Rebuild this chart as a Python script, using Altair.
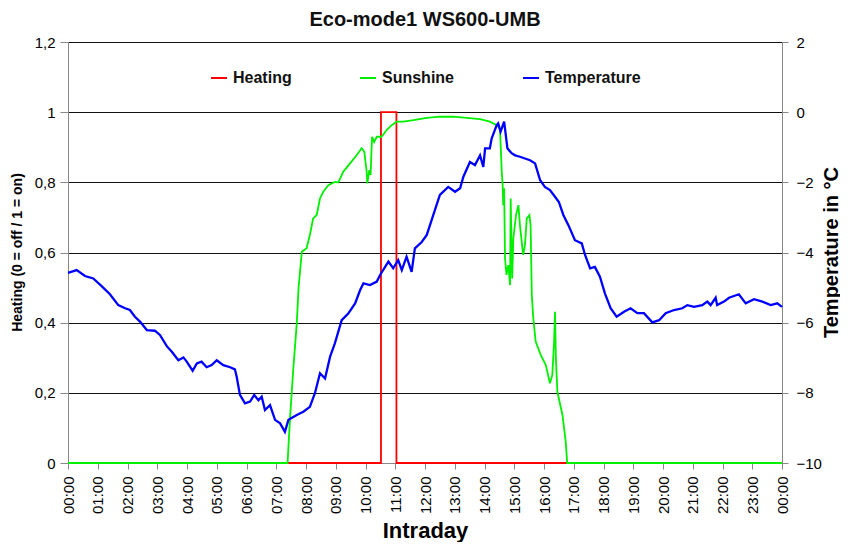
import altair as alt
import pandas as pd

FONT = "Liberation Sans"

series_names = ["Heating", "Sunshine", "Temperature"]
series_colors = ["#ff0000", "#00f000", "#0000ff"]

# Heating (0 = off / 1 = on), hours of day
heat_h = [0.00, 10.52, 10.52, 11.04, 11.04, 24.00]
heat_v = [0, 0, 1, 1, 0, 0]

# Sunshine (left axis scale), hours of day
sun_h = [0.00, 7.38, 7.46, 7.57, 7.69, 7.75, 7.86, 8.02, 8.13, 8.24,
         8.36, 8.47, 8.58, 8.75, 8.97, 9.09, 9.25, 9.48, 9.70, 9.87,
         9.96, 10.04, 10.06, 10.13, 10.17, 10.22, 10.29, 10.38, 10.54, 10.71,
         10.88, 11.05, 11.27, 11.61, 12.06, 12.50, 12.95, 13.40, 13.85, 14.18,
         14.41, 14.52, 14.58, 14.61, 14.63, 14.66, 14.69, 14.74, 14.80, 14.86,
         14.88, 14.93, 14.97, 15.06, 15.14, 15.19, 15.30, 15.36, 15.42, 15.51,
         15.55, 15.59, 15.64, 15.72, 15.89, 16.06, 16.20, 16.28, 16.34, 16.37,
         16.40, 16.45, 16.62, 16.73, 16.78, 24.00]
sun_v = [0, 0, 0.123, 0.265, 0.398, 0.50, 0.602, 0.612, 0.650, 0.697,
         0.707, 0.754, 0.773, 0.792, 0.801, 0.800, 0.830, 0.854, 0.877, 0.897,
         0.887, 0.830, 0.797, 0.835, 0.821, 0.930, 0.915, 0.930, 0.930, 0.949,
         0.963, 0.973, 0.973, 0.977, 0.984, 0.987, 0.987, 0.984, 0.980, 0.973,
         0.963, 0.953, 0.830, 0.792, 0.735, 0.783, 0.583, 0.536, 0.564, 0.507,
         0.754, 0.526, 0.640, 0.707, 0.735, 0.678, 0.593, 0.621, 0.697, 0.707,
         0.678, 0.479, 0.412, 0.346, 0.308, 0.279, 0.227, 0.251, 0.346, 0.431,
         0.298, 0.203, 0.137, 0.061, 0, 0]

# Temperature in °C (right axis), hours of day
temp_h = [0.00, 0.29, 0.57, 0.85, 1.13, 1.41, 1.69, 1.92, 2.08, 2.25,
          2.42, 2.65, 2.92, 3.09, 3.32, 3.49, 3.71, 3.88, 3.99, 4.19,
          4.33, 4.49, 4.66, 4.83, 5.00, 5.22, 5.45, 5.61, 5.67, 5.78,
          5.95, 6.12, 6.26, 6.40, 6.51, 6.62, 6.79, 6.96, 7.13, 7.29,
          7.41, 7.69, 7.91, 8.13, 8.30, 8.47, 8.64, 8.81, 8.97, 9.20,
          9.42, 9.65, 9.82, 9.93, 10.15, 10.38, 10.49, 10.77, 10.93, 11.10,
          11.22, 11.38, 11.55, 11.66, 11.89, 12.06, 12.28, 12.50, 12.78, 13.01,
          13.18, 13.29, 13.51, 13.68, 13.85, 13.96, 14.02, 14.18, 14.24, 14.41,
          14.46, 14.54, 14.66, 14.77, 14.91, 15.03, 15.19, 15.36, 15.53, 15.70,
          15.87, 16.03, 16.20, 16.37, 16.50, 16.65, 16.82, 17.04, 17.27, 17.38,
          17.55, 17.71, 17.88, 18.05, 18.24, 18.44, 18.69, 18.91, 19.14, 19.36,
          19.64, 19.87, 20.09, 20.37, 20.65, 20.82, 21.04, 21.32, 21.49, 21.60,
          21.77, 21.82, 22.05, 22.22, 22.55, 22.78, 23.06, 23.34, 23.62, 23.84,
          24.00]
temp_c = [-4.58, -4.50, -4.67, -4.74, -4.96, -5.19, -5.50, -5.59, -5.64, -5.83,
          -5.97, -6.21, -6.23, -6.35, -6.67, -6.83, -7.07, -6.99, -7.11, -7.37,
          -7.16, -7.11, -7.27, -7.21, -7.07, -7.21, -7.27, -7.33, -7.54, -8.06,
          -8.30, -8.25, -8.06, -8.21, -8.11, -8.49, -8.35, -8.77, -8.87, -9.11,
          -8.77, -8.63, -8.54, -8.40, -8.01, -7.44, -7.59, -6.97, -6.59, -5.93,
          -5.74, -5.45, -5.07, -4.88, -4.93, -4.83, -4.64, -4.26, -4.45, -4.22,
          -4.50, -4.12, -4.55, -3.88, -3.70, -3.50, -2.93, -2.36, -2.13, -2.27,
          -2.17, -1.84, -1.42, -1.51, -1.23, -1.56, -1.03, -1.03, -0.75, -0.37,
          -0.32, -0.56, -0.27, -1.03, -1.17, -1.23, -1.27, -1.32, -1.37, -1.46,
          -1.94, -2.13, -2.22, -2.41, -2.56, -2.93, -3.22, -3.65, -3.74, -4.07,
          -4.45, -4.41, -4.69, -5.17, -5.59, -5.83, -5.69, -5.59, -5.73, -5.73,
          -5.99, -5.93, -5.73, -5.64, -5.59, -5.50, -5.55, -5.50, -5.40, -5.50,
          -5.29, -5.50, -5.40, -5.29, -5.19, -5.45, -5.33, -5.40, -5.50, -5.45,
          -5.55]

left_ticks = [0, 0.2, 0.4, 0.6, 0.8, 1.0, 1.2]
right_ticks = [-10, -8, -6, -4, -2, 0, 2]
hour_ticks = list(range(25))

left_df = pd.concat([
    pd.DataFrame({"h": heat_h, "v": heat_v, "s": "Heating", "i": range(len(heat_h))}),
    pd.DataFrame({"h": sun_h, "v": sun_v, "s": "Sunshine", "i": range(len(sun_h))}),
], ignore_index=True)
temp_df = pd.DataFrame({"h": temp_h, "t": temp_c, "s": "Temperature", "i": range(len(temp_h))})

color = alt.Color(
    "s:N",
    scale=alt.Scale(domain=series_names, range=series_colors),
    legend=alt.Legend(
        title=None, orient="none", legendX=142, legendY=27, direction="horizontal",
        symbolType="stroke", symbolSize=256, symbolStrokeWidth=2,
        labelFont=FONT, labelFontSize=16, labelFontWeight="bold", labelColor="#111",
        labelOffset=5, columnPadding=64, padding=0,
    ),
)

x_enc = alt.X(
    "h:Q",
    scale=alt.Scale(domain=[0, 24], nice=False, zero=False),
    axis=alt.Axis(
        values=hour_ticks, labelAngle=270, grid=False,
        labelExpr="((datum.value % 24) < 10 ? '0' : '') + (datum.value % 24) + ':00'",
        title="Intraday", titleFontSize=22, titleY=74, titleBaseline="alphabetic",
        tickSize=6, labelPadding=7, labelFontSize=15,
    ),
)

left_chart = alt.Chart(left_df).mark_line(strokeWidth=1.8).encode(
    x=x_enc,
    y=alt.Y(
        "v:Q",
        scale=alt.Scale(domain=[0, 1.2], nice=False),
        axis=alt.Axis(
            values=left_ticks, grid=True, gridColor="#111", gridWidth=1.2, gridOpacity=1,
            labelExpr="replace(format(datum.value, '.1~f'), '.', ',')",
            title="Heating (0 = off / 1 = on)", titleFontSize=14,
            titleX=-51, titleY=210, titleAngle=270, titleAlign="center", titleBaseline="middle",
            tickSize=8, labelPadding=5, labelFontSize=15,
        ),
    ),
    color=color,
    order=alt.Order("i:Q"),
)

temp_chart = alt.Chart(temp_df).mark_line(strokeWidth=2.3).encode(
    x=x_enc,
    y=alt.Y(
        "t:Q",
        scale=alt.Scale(domain=[-10, 2], nice=False),
        axis=alt.Axis(
            orient="right", values=right_ticks, grid=False,
            title="Temperature in °C", titleFontSize=20,
            titleX=49, titleY=210, titleAngle=270, titleAlign="center", titleBaseline="middle",
            tickSize=6, labelPadding=8, labelFontSize=15,
        ),
    ),
    color=color,
    order=alt.Order("i:Q"),
)

chart = alt.layer(left_chart, temp_chart).resolve_scale(y="independent").properties(
    width=714,
    height=421,
    autosize=alt.AutoSizeParams(type="none"),
    padding={"left": 60, "top": 34, "right": 58, "bottom": 79},
    title=alt.TitleParams(
        "Eco-mode1 WS600-UMB", font=FONT, fontSize=20, fontWeight="bold", color="#111",
        anchor="middle", frame="group", baseline="alphabetic", offset=0, dy=11,
    ),
).configure_axis(
    labelFont=FONT, labelFontWeight="bold", labelColor="#111",
    titleFont=FONT, titleFontWeight="bold", titleColor="#111",
    domainColor="#111", domainWidth=1.2, tickColor="#111", tickWidth=1.2,
).configure_view(strokeWidth=0).configure(background="white")

chart.save("out.html", embed_options={"renderer": "svg", "actions": False})
